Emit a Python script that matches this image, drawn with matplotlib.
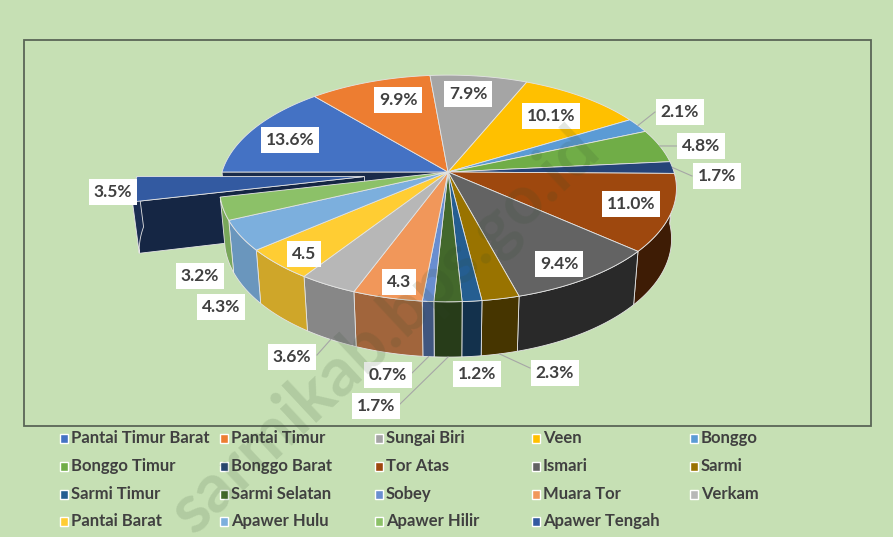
import numpy as np
import matplotlib.pyplot as plt
import matplotlib.colors as mcolors
from matplotlib.patches import Polygon, Rectangle

# data (clockwise from 9 o'clock)
names = ['Pantai Timur Barat', 'Pantai Timur', 'Sungai Biri', 'Veen', 'Bonggo',
         'Bonggo Timur', 'Bonggo Barat', 'Tor Atas', 'Ismari', 'Sarmi',
         'Sarmi Timur', 'Sarmi Selatan', 'Sobey', 'Muara Tor', 'Verkam',
         'Pantai Barat', 'Apawer Hulu', 'Apawer Hilir', 'Apawer Tengah']
values = [13.6, 9.9, 7.9, 10.1, 2.1, 4.8, 1.7, 11.0, 9.4, 2.3,
          1.2, 1.7, 0.7, 4.3, 3.6, 4.5, 4.3, 3.2, 3.5]
labels = ['13.6%', '9.9%', '7.9%', '10.1%', '2.1%', '4.8%', '1.7%', '11.0%', '9.4%', '2.3%',
          '1.2%', '1.7%', '0.7%', '4.3', '3.6%', '4.5', '4.3%', '3.2%', '3.5%']
colors = ['#4472C4', '#ED7D31', '#A5A5A5', '#FFC000', '#5B9BD5', '#70AD47',
          '#264478', '#9E480E', '#636363', '#997300', '#255E91', '#43682B',
          '#698ED0', '#F1975A', '#B7B7B7', '#FFCD33', '#7CAFDD', '#8CC168', '#335AA1']
explode_idx = 18

# label placement (pixels)
label_pos = [(290, 140), (398, 100), (468, 94), (551, 116), (680, 112), (701, 146),
             (717, 176), (631, 204), (559, 264), (555, 373), (477, 374), (376, 406),
             (388, 375), (399, 282), (292, 357), (304, 254), (221, 307), (200, 276), (113, 192)]
leader_end = {4: (655, 112), 5: (677, 146), 6: (692, 176), 9: (530, 368),
              11: (399, 405), 12: (412, 373), 14: (317, 355)}

# projection
CX, CY, F, D = 448, 172, 1356, 6.0
E = np.radians(29.4)
T = 0.26
se, ce = np.sin(E), np.cos(E)


def proj(u, v, h):
    z = D - v * ce - h * se
    return CX + F * u / z, CY + F * (v * se - h * ce) / z


def rim(a0, a1, h, ou=0, ov=0, n=40):
    a = np.radians(np.linspace(a0, a1, n))
    return [proj(-np.cos(t) + ou, -np.sin(t) + ov, h) for t in a]


def shade(c, f):
    return tuple(np.array(mcolors.to_rgb(c)) * f)


def side_factor(a):
    return np.interp(a, [180, 255, 270, 285, 300, 320, 360],
                     [0.38, 0.42, 0.58, 0.68, 0.75, 0.85, 0.88])


total = sum(values)
bounds = np.concatenate([[0], np.cumsum(values) / total * 360])

fig = plt.figure(figsize=(8.93, 5.37), dpi=100)
fig.patch.set_facecolor('#C6E0B4')
ax = fig.add_axes([0, 0, 1, 1])
ax.set_xlim(0, 893)
ax.set_ylim(537, 0)
ax.axis('off')

ax.add_patch(Rectangle((24, 40), 847, 386, fill=False, ec='#5A6656', lw=1.3))

EC = '#E4E4E4'
LW = 0.6

# radial face of first slice exposed by the gap
p = [proj(0, 0, 0), proj(-1, 0, 0), proj(-1, 0, -T), proj(0, 0, -T)]
ax.add_patch(Polygon(p, fc=shade(colors[0], 0.38), ec=EC, lw=LW))

# exploded slice
a0, a1 = bounds[explode_idx], bounds[explode_idx + 1]
mid = np.radians((a0 + a1) / 2)
re = 0.37
ou, ov = -np.cos(mid) * re, -np.sin(mid) * re
c = colors[explode_idx]
t0 = np.radians(a0)
p = [proj(ou, ov, 0), proj(-np.cos(t0) + ou, -np.sin(t0) + ov, 0),
     proj(-np.cos(t0) + ou, -np.sin(t0) + ov, -T), proj(ou, ov, -T)]
ax.add_patch(Polygon(p, fc=shade(c, 0.42), ec=EC, lw=LW))
p = rim(a0, a1, 0, ou, ov) + rim(a0, a1, -T, ou, ov)[::-1]
ax.add_patch(Polygon(p, fc=shade(c, 0.5), ec=EC, lw=LW))
p = [proj(ou, ov, 0)] + rim(a0, a1, 0, ou, ov)
ax.add_patch(Polygon(p, fc=c, ec=EC, lw=LW))

# main body sides
for i in range(len(values)):
    if i == explode_idx:
        continue
    s0, s1 = max(bounds[i], 180), bounds[i + 1]
    if s1 <= 180:
        continue
    p = rim(s0, s1, 0) + rim(s0, s1, -T)[::-1]
    ax.add_patch(Polygon(p, fc=shade(colors[i], side_factor((s0 + s1) / 2)), ec=EC, lw=LW))

# main body tops
for i in range(len(values)):
    if i == explode_idx:
        continue
    p = [proj(0, 0, 0)] + rim(bounds[i], bounds[i + 1], 0)
    ax.add_patch(Polygon(p, fc=colors[i], ec=EC, lw=LW))

# leader lines
for i, (ex, ey) in leader_end.items():
    t = np.radians((bounds[i] + bounds[i + 1]) / 2)
    h = 0 if -np.sin(t) < 0.3 else -T
    sx, sy = proj(-np.cos(t), -np.sin(t), h)
    ax.plot([sx, ex], [sy, ey], color='#A6A6A6', lw=0.8)

# data labels
for (x, y), s in zip(label_pos, labels):
    ax.text(x, y, s, ha='center', va='center', fontsize=12.5, fontweight='bold',
            family='Lato', color='#404040',
            bbox=dict(boxstyle='square,pad=0.26', fc='white', ec='none'))

# legend
col_x = [64, 224, 379, 536, 694]
row_y = [438, 466, 494, 521]
for k, (n, c) in enumerate(zip(names, colors)):
    x, y = col_x[k % 5], row_y[k // 5]
    ax.add_patch(Rectangle((x - 4, y - 4.5), 8, 9, fc=c, ec='white', lw=1))
    ax.text(x + 7, y, n, ha='left', va='center', fontsize=12, fontweight='bold',
            family='Lato', color='#404040')

# watermark (runs off the bottom edge, as in the original)
ax.text(386, 332, 'sarmikab.bps.go.id', ha='center', va='center', rotation=43,
        fontsize=49, fontweight='bold', family='Lato', color='#2F4A2A', alpha=0.14)

fig.savefig('out.png', dpi=100, facecolor=fig.get_facecolor())
